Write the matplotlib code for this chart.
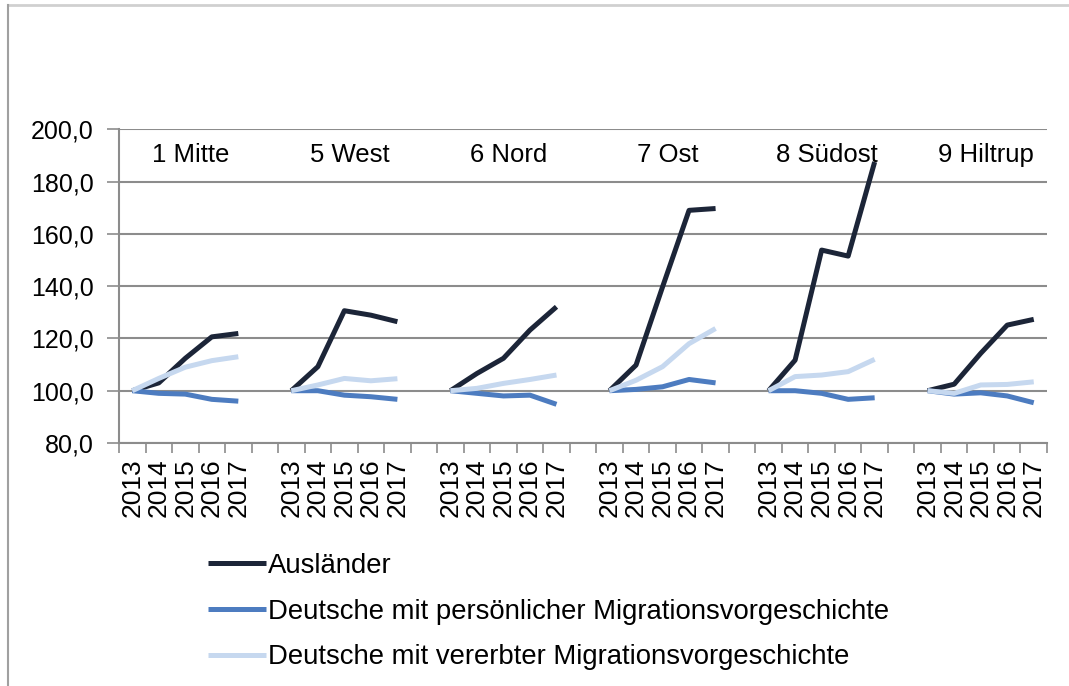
import matplotlib.pyplot as plt
import numpy as np
from matplotlib.lines import Line2D

# data (index 2013 = 100)
years = ["2013", "2014", "2015", "2016", "2017"]
districts = ["1 Mitte", "5 West", "6 Nord", "7 Ost", "8 Südost", "9 Hiltrup"]

auslaender = [
    [100.0, 103.0, 112.4, 120.6, 121.9],
    [100.0, 109.2, 130.6, 128.9, 126.4],
    [100.0, 106.6, 112.4, 123.2, 132.1],
    [100.0, 109.8, 139.7, 169.0, 169.7],
    [100.0, 111.7, 153.8, 151.5, 187.5],
    [100.0, 102.5, 114.3, 125.1, 127.3],
]
persoenlich = [
    [100.0, 99.0, 98.7, 96.7, 96.0],
    [100.0, 100.0, 98.3, 97.7, 96.7],
    [100.0, 99.0, 98.0, 98.3, 94.8],
    [100.0, 100.5, 101.5, 104.3, 103.0],
    [100.0, 100.0, 99.0, 96.7, 97.3],
    [100.0, 98.7, 99.2, 98.0, 95.4],
]
vererbt = [
    [100.0, 104.7, 109.0, 111.5, 113.0],
    [100.0, 102.2, 104.7, 103.8, 104.6],
    [100.0, 100.9, 102.8, 104.3, 106.0],
    [100.0, 104.0, 109.2, 118.0, 123.8],
    [100.0, 105.4, 106.0, 107.3, 112.0],
    [100.0, 99.0, 102.2, 102.4, 103.4],
]

series = [
    ("Ausländer", auslaender, "#1c2538"),
    ("Deutsche mit persönlicher Migrationsvorgeschichte", persoenlich, "#4d7cc0"),
    ("Deutsche mit vererbter Migrationsvorgeschichte", vererbt, "#c6d8ef"),
]

plt.rcParams["font.family"] = ["Liberation Sans", "DejaVu Sans"]

fig = plt.figure(figsize=(10.69, 6.86), dpi=100)
ax = fig.add_axes([119 / 1069, 1 - 443 / 686, (1047 - 119) / 1069, (443 - 129.3) / 686])

n_groups = len(districts)
slot = len(years) + 1  # one empty category between districts
n_cat = n_groups * slot - 1

for label, values, color in series:
    for g in range(n_groups):
        x = np.arange(len(years)) + g * slot
        ax.plot(x, values[g], color=color, linewidth=3.6,
                solid_capstyle="butt", label=label if g == 0 else None)

# district names
for g, name in enumerate(districts):
    ax.text(g * slot + 2.2, 190.3, name, ha="center", va="center", fontsize=18.5)

ax.set_xlim(-0.5, n_cat - 0.5)
ax.set_ylim(80, 200)
ax.set_yticks(np.arange(80, 201, 20))
ax.set_yticklabels([f"{v:.1f}".replace(".", ",") for v in np.arange(80, 201, 20)], fontsize=18)

xticks = [g * slot + i for g in range(n_groups) for i in range(len(years))]
ax.set_xticks(xticks)
ax.set_xticklabels(years * n_groups, rotation=90, fontsize=19)
ax.set_xticks(np.arange(-0.5, n_cat, 1), minor=True)
ax.tick_params(axis="x", which="major", length=0, pad=11)
ax.tick_params(axis="x", which="minor", length=7, width=1.2, color="#8c8c8c", direction="out")
ax.tick_params(axis="y", length=9, width=1.2, color="#8c8c8c", pad=9)

ax.grid(axis="y", color="#8c8c8c", linewidth=1.5)
ax.set_axisbelow(True)
for side in ["top", "right"]:
    ax.spines[side].set_visible(False)
for side in ["left", "bottom"]:
    ax.spines[side].set_color("#8c8c8c")
    ax.spines[side].set_linewidth(1.5)

fig.legend(loc="upper left", bbox_to_anchor=(194 / 1069, 1 - 539 / 686),
           frameon=False, fontsize=19.8, handlelength=2.1, handletextpad=0.1,
           labelspacing=0.72, borderpad=0)

# outer chart frame (top and left edges visible)
fig.add_artist(Line2D([8 / 1069, 1], [1 - 5 / 686, 1 - 5 / 686], color="#d0d0d0", linewidth=2))
fig.add_artist(Line2D([8 / 1069, 8 / 1069], [0, 1 - 5 / 686], color="#a0a0a0", linewidth=1.5))

fig.savefig("out.png", dpi=100)
